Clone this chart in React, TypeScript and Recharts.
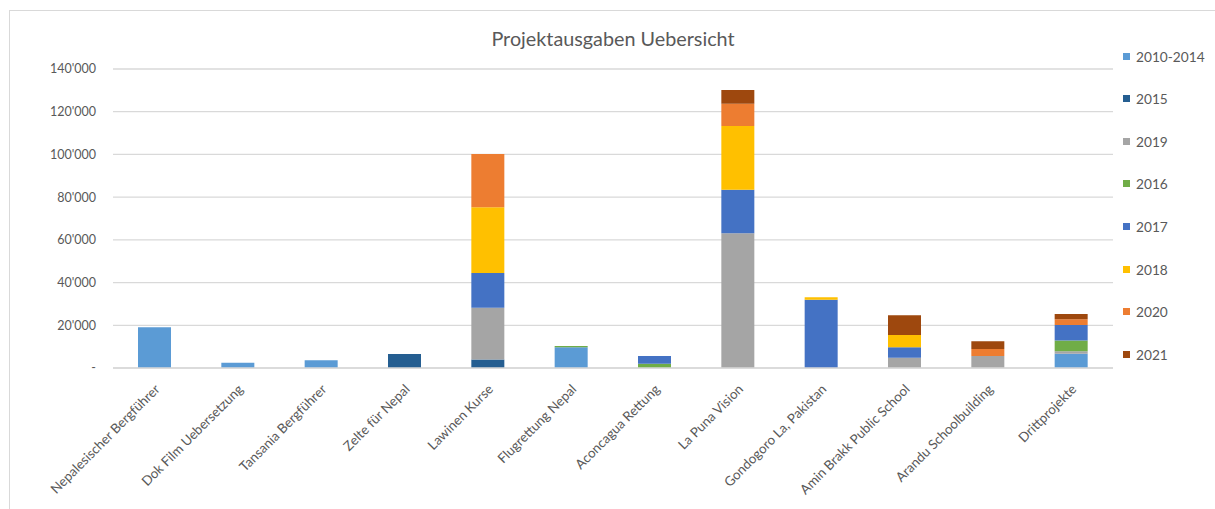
import React from "react";
import { BarChart, Bar, XAxis, YAxis, CartesianGrid } from "recharts";

const categories = [
  "Nepalesischer Bergführer",
  "Dok Film Uebersetzung",
  "Tansania Bergführer",
  "Zelte für Nepal",
  "Lawinen Kurse",
  "Flugrettung Nepal",
  "Aconcagua Rettung",
  "La Puna Vision",
  "Gondogoro La, Pakistan",
  "Amin Brakk Public School",
  "Arandu Schoolbuilding",
  "Drittprojekte",
];

const y2010_2014 = [19100, 2500, 3600, 0, 0, 9700, 0, 0, 0, 0, 0, 6700];
const y2015 = [0, 0, 0, 6600, 4000, 0, 0, 0, 0, 0, 0, 0];
const y2019 = [0, 0, 0, 0, 24200, 0, 0, 63100, 0, 4800, 5600, 1100];
const y2016 = [0, 0, 0, 0, 0, 600, 2000, 0, 0, 0, 0, 5100];
const y2017 = [0, 0, 0, 0, 16300, 0, 3600, 20400, 32000, 4900, 0, 7200];
const y2018 = [0, 0, 0, 0, 30800, 0, 0, 29800, 1100, 5800, 0, 0];
const y2020 = [0, 0, 0, 0, 24900, 0, 0, 10400, 0, 0, 3300, 2700];
const y2021 = [0, 0, 0, 0, 0, 0, 0, 6500, 0, 9200, 3600, 2500];

const yTicks = [0, 20000, 40000, 60000, 80000, 100000, 120000, 140000];

// stacking order = legend order
const series = [
  { key: "s2010_2014", name: "2010-2014", values: y2010_2014, color: "#5B9BD5" },
  { key: "s2015", name: "2015", values: y2015, color: "#255E91" },
  { key: "s2019", name: "2019", values: y2019, color: "#A5A5A5" },
  { key: "s2016", name: "2016", values: y2016, color: "#70AD47" },
  { key: "s2017", name: "2017", values: y2017, color: "#4472C4" },
  { key: "s2018", name: "2018", values: y2018, color: "#FFC000" },
  { key: "s2020", name: "2020", values: y2020, color: "#ED7D31" },
  { key: "s2021", name: "2021", values: y2021, color: "#9E480E" },
];

const data = categories.map((name, i) => {
  const row: Record<string, string | number> = { name };
  series.forEach((s) => {
    row[s.key] = s.values[i];
  });
  return row;
});

const FONT = "Lato, 'Open Sans', sans-serif";
const TEXT = "#595959";

function fmt(v: number) {
  if (v === 0) return "- ";
  return String(v).replace(/\B(?=(\d{3})+(?!\d))/g, "'");
}

function CategoryTick(props: any) {
  const { x, y, payload } = props;
  const ax = x + 6;
  const ay = y + 22;
  return (
    <text
      x={ax}
      y={ay}
      transform={`rotate(-45, ${ax}, ${ay})`}
      textAnchor="end"
      fill={TEXT}
      fontSize={13.3}
      fontFamily={FONT}
    >
      {payload.value}
    </text>
  );
}

export default function App() {
  return (
    <div
      style={{
        position: "absolute",
        left: 0,
        top: 0,
        width: 1215,
        height: 509,
        background: "#fff",
        fontFamily: FONT,
      }}
    >
      <div
        style={{
          position: "absolute",
          left: 9,
          top: 10,
          width: 1206,
          height: 499,
          borderTop: "1px solid #d9d9d9",
          borderLeft: "1px solid #d9d9d9",
        }}
      />
      <div
        style={{
          position: "absolute",
          left: 113,
          top: 26,
          width: 1000,
          textAlign: "center",
          fontSize: 19.8,
          lineHeight: "24px",
          color: TEXT,
        }}
      >
        Projektausgaben Uebersicht
      </div>

      <BarChart
        width={1215}
        height={509}
        data={data}
        margin={{ top: 69, right: 102, bottom: 11, left: 53 }}
        barCategoryGap="30%"
        style={{ position: "absolute", left: 0, top: 0 }}
      >
        <CartesianGrid vertical={false} stroke="#d9d9d9" strokeWidth={1.3} />
        <XAxis
          dataKey="name"
          interval={0}
          height={130}
          tickLine={false}
          tickSize={0}
          tickMargin={0}
          axisLine={{ stroke: "#d9d9d9", strokeWidth: 1.3 }}
          tick={<CategoryTick />}
        />
        <YAxis
          width={60}
          domain={[0, 140000]}
          ticks={yTicks}
          tickFormatter={fmt}
          axisLine={false}
          tickLine={false}
          tickSize={0}
          tickMargin={17}
          tick={{ fill: TEXT, fontSize: 12.5, fontFamily: FONT }}
        />
        {series.map((s) => (
          <Bar
            key={s.key}
            dataKey={s.key}
            name={s.name}
            stackId="a"
            fill={s.color}
            isAnimationActive={false}
          />
        ))}
      </BarChart>

      {series.map((s, i) => (
        <div
          key={s.key}
          style={{
            position: "absolute",
            left: 1123,
            top: 56 + i * 42.6 - 10,
            height: 20,
            display: "flex",
            alignItems: "center",
            fontSize: 13.7,
            color: TEXT,
            whiteSpace: "nowrap",
          }}
        >
          <span
            style={{
              display: "inline-block",
              width: 7,
              height: 7,
              background: s.color,
              marginRight: 6,
            }}
          />
          {s.name}
        </div>
      ))}
    </div>
  );
}
